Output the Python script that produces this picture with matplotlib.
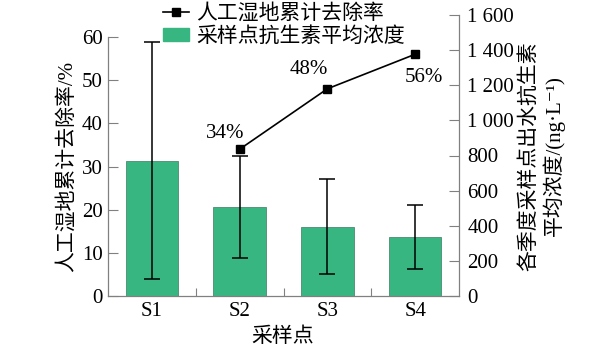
import numpy as np
import matplotlib
matplotlib.use('Agg')
import matplotlib.pyplot as plt
from matplotlib.lines import Line2D
from matplotlib.patches import Patch

plt.rcParams['font.family'] = ['Liberation Serif', 'Noto Sans CJK SC', 'DejaVu Serif']

sites = ['S1', 'S2', 'S3', 'S4']
conc_mean = [769, 505, 395, 338]
conc_err = [675, 290, 270, 182]
removal_sites = ['S2', 'S3', 'S4']
removal = [34, 48, 56]
removal_labels = ['34%', '48%', '56%']
left_ticks = [0, 10, 20, 30, 40, 50, 60]
right_ticks = [0, 200, 400, 600, 800, 1000, 1200, 1400, 1600]
right_ticklabels = ['0', '200', '400', '600', '800', '1 000', '1 200', '1 400', '1 600']

W, H = 598, 355
GREEN = '#38b682'
SPINE = '#808080'
FS = 15

fig = plt.figure(figsize=(W / 100, H / 100), dpi=100)
ax = fig.add_axes([108 / W, 1 - 296 / H, (459 - 108) / W, (296 - 15) / H])
ax2 = ax.twinx()

x = np.arange(len(sites))
xr = [sites.index(s) for s in removal_sites]

# bars on the right axis
ax2.bar(x, conc_mean, width=0.6, color=GREEN, edgecolor='#4a8a6e', linewidth=0.6)
ax2.errorbar(x, conc_mean, yerr=conc_err, fmt='none', ecolor='black',
             elinewidth=1.1, capsize=6, capthick=1.1)
ax2.set_ylim(0, 1600)
ax2.set_yticks(right_ticks)
ax2.set_yticklabels(right_ticklabels)

# removal line on left axis, drawn above bars
ax.set_zorder(ax2.get_zorder() + 1)
ax.patch.set_visible(False)
ax.plot(xr, removal, color='black', linewidth=1.2, marker='s', markersize=6)
offsets = [(-14, 16), (-19, 19), (9, -23)]
for xi, yi, lab, off in zip(xr, removal, removal_labels, offsets):
    ax.annotate(lab, (xi, yi), xytext=(off[0] * 0.72, off[1] * 0.72),
                textcoords='offset points', ha='center', va='center', fontsize=FS)

ax.set_xlim(-0.5, 3.5)
ax.set_ylim(0, 60 * 281 / 259)
ax.set_yticks(left_ticks)
ax.spines['left'].set_bounds(0, 60)

ax.set_xticks(x)
ax.set_xticklabels(sites)
ax.set_xticks([0.5, 1.5, 2.5], minor=True)
ax.tick_params(axis='x', which='major', length=0, pad=4, labelsize=FS)
ax.tick_params(axis='x', which='minor', direction='in', length=6, width=0.8, color=SPINE)
ax.tick_params(axis='y', direction='in', length=7, width=0.8, color=SPINE, pad=4, labelsize=FS)
ax2.tick_params(axis='y', direction='in', length=7, width=0.8, color=SPINE, pad=6, labelsize=FS)

for a in (ax, ax2):
    a.spines['top'].set_visible(False)
    for s in ('left', 'right', 'bottom'):
        a.spines[s].set_color(SPINE)
        a.spines[s].set_linewidth(0.9)
ax.spines['right'].set_visible(False)
ax2.spines['left'].set_visible(False)
ax2.spines['bottom'].set_visible(False)

fig.text(67 / W, 1 - 166 / H, '人工湿地累计去除率/%', rotation=90,
         ha='center', va='center', fontsize=FS)
fig.text(542 / W, 1 - 156 / H, '各季度采样点出水抗生素\n平均浓度/(ng·L⁻¹)', rotation=90,
         ha='center', va='center', ma='center', fontsize=FS, linespacing=1.2)
fig.text(283 / W, 1 - 337 / H, '采样点', ha='center', va='center', fontsize=FS)

handles = [Line2D([], [], color='black', linewidth=1.2, marker='s', markersize=6),
           Patch(facecolor=GREEN, edgecolor=GREEN)]
fig.legend(handles, ['人工湿地累计去除率', '采样点抗生素平均浓度'],
           loc='upper left', bbox_to_anchor=(163 / W, 1 - 4 / H), frameon=False,
           fontsize=FS, handlelength=1.25, handleheight=0.6, handletextpad=0.35,
           labelspacing=0.15, borderpad=0, borderaxespad=0)

fig.savefig('out.png', dpi=100)
